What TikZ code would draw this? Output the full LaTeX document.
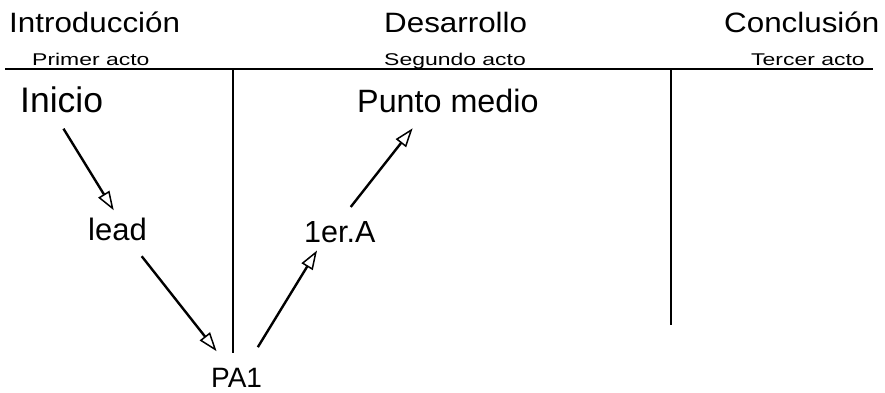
\documentclass[tikz,border=0pt]{standalone}
\usepackage{fontspec}
\setmainfont{Liberation Sans}
\newfontfamily\headfont[FakeStretch=1.12]{Liberation Sans}
\newfontfamily\actfont[FakeStretch=1.35]{Liberation Sans}
\usetikzlibrary{calc,arrows.meta}
\tikzset{
  head/.style={anchor=base west, inner sep=0pt, font=\headfont\fontsize{28}{30}\selectfont},
  act/.style={anchor=base west, inner sep=0pt, font=\actfont\fontsize{17}{19}\selectfont},
  beat/.style={anchor=base west, inner sep=0pt},
  rule/.style={line width=2.8pt},
  arr/.style={line width=2.4pt, -{Triangle[open, length=19pt, width=13pt, line width=1.5pt]}}
}
\begin{document}
\begin{tikzpicture}[x=1pt, y=-1pt]
\useasboundingbox (0,0) rectangle (885,393);
% headings
\node[head] (intro) at (9,33) {Introducción};
\node[head] (desa) at (384,33) {Desarrollo};
\node[head] (concl) at (724,33) {Conclusión};
\node[act] (acto1) at (32,66) {Primer acto};
\node[act] (acto2) at (384,66) {Segundo acto};
\node[act] (acto3) at (751,66) {Tercer acto};
% rules
\coordinate (hl) at (5,69);
\coordinate (hr) at (873,69);
\coordinate (v1t) at (233,69);
\coordinate (v1b) at (233,353);
\coordinate (v2t) at (671,69);
\coordinate (v2b) at (671,325);
\draw[rule] (hl) -- (hr);
\draw[rule] (v1t) -- (v1b);
\draw[rule] (v2t) -- (v2b);
% beats
\node[beat, font=\fontsize{35.5}{37}\selectfont] (inicio) at (20,113) {Inicio};
\node[beat, font=\fontsize{32.3}{34}\selectfont] (pm) at (357,113) {Punto medio};
\node[beat, font=\fontsize{31}{33}\selectfont] (lead) at (88,240) {lead};
\node[beat, font=\fontsize{30.5}{32}\selectfont] (primA) at (304,242) {1er.A};
\node[beat, font=\fontsize{28}{30}\selectfont] (pa1) at (211,387) {PA1};
% arrows
\draw[arr, shorten <=17.8pt, shorten >=8.3pt]
  ($(inicio.south west)!0.41!(inicio.south east)$) -- ($(lead.north west)!0.51!(lead.north east)$);
\draw[arr, shorten <=20pt, shorten >=20.8pt]
  ($(lead.south west)!0.7!(lead.south east)$) -- ($(pa1.north west)!0.36!(pa1.north east)$);
\draw[arr, shorten <=23.9pt, shorten >=9.4pt]
  ($(pa1.north west)!0.67!(pa1.north east)$) -- ($(primA.south west)!0.25!(primA.south east)$);
\draw[arr, shorten <=17.6pt, shorten >=18.8pt]
  ($(primA.north west)!0.5!(primA.north east)$) -- ($(pm.south west)!0.37!(pm.south east)$);
\end{tikzpicture}
\end{document}
